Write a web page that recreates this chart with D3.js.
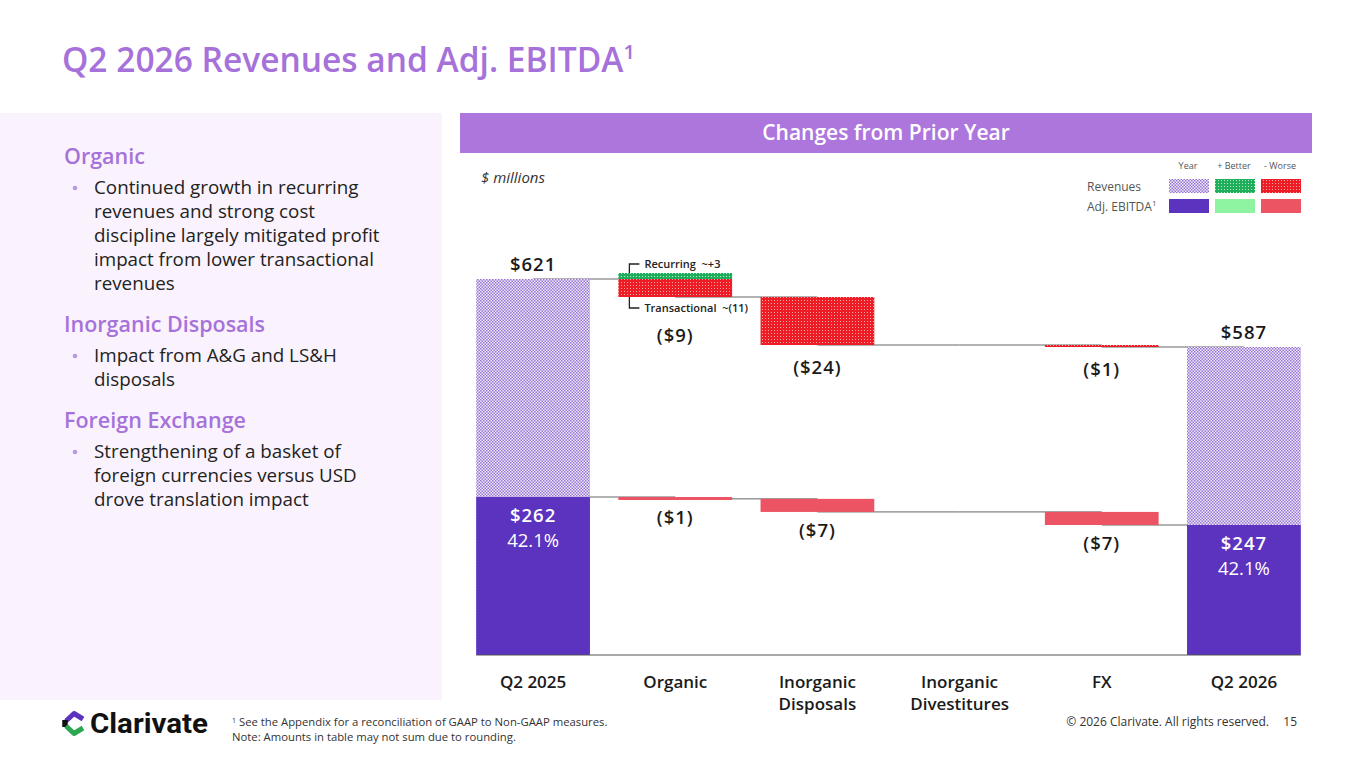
<!DOCTYPE html>
<html>
<head>
<meta charset="utf-8">
<script src="https://cdn.jsdelivr.net/npm/d3@7"></script>
<style>
  body { margin: 0; background: #fff; }
  svg { display: block; font-family: "Open Sans", Lato, sans-serif; }
</style>
</head>
<body>
<svg id="slide" width="1365" height="768"></svg>
<script>
// chart values
var categories = ["Q2 2025", "Organic", "Inorganic Disposals", "Inorganic Divestitures", "FX", "Q2 2026"];
var catLines = [["Q2 2025"], ["Organic"], ["Inorganic", "Disposals"], ["Inorganic", "Divestitures"], ["FX"], ["Q2 2026"]];
var revValues = [621, -9, -24, 0, -1, 587];
var ebitdaValues = [262, -1, -7, 0, -7, 247];
var revLabels = ["$621", "($9)", "($24)", "", "($1)", "$587"];
var ebitdaLabels = ["$262", "($1)", "($7)", "", "($7)", "$247"];
var marginLabels = ["42.1%", "", "", "", "", "42.1%"];
var organicSplit = [{ name: "Recurring", value: 3, label: "Recurring\u00a0\u00a0~+3" },
                    { name: "Transactional", value: -11, label: "Transactional\u00a0\u00a0~(11)" }];

var bullets = [
  { head: "Organic", lines: ["Continued growth in recurring", "revenues and strong cost", "discipline largely mitigated profit", "impact from lower transactional", "revenues"] },
  { head: "Inorganic Disposals", lines: ["Impact from A&G and LS&H", "disposals"] },
  { head: "Foreign Exchange", lines: ["Strengthening of a basket of", "foreign currencies versus USD", "drove translation impact"] }
];

make_slide = function () {
    var svg = d3.select("#slide");
    var purple = "#a672da";

    // patterns
    var defs = svg.append("defs");
    var pYear = defs.append("pattern").attr("id", "revYear").attr("patternUnits", "userSpaceOnUse")
        .attr("width", 3).attr("height", 3);
    pYear.append("rect").attr("width", 3).attr("height", 3).attr("fill", "#efe9f9");
    pYear.append("rect").attr("width", 1.5).attr("height", 1.5).attr("fill", "#9575d4");
    pYear.append("rect").attr("x", 1.5).attr("y", 1.5).attr("width", 1.5).attr("height", 1.5).attr("fill", "#9575d4");

    var pGood = defs.append("pattern").attr("id", "revGood").attr("patternUnits", "userSpaceOnUse")
        .attr("width", 3).attr("height", 3);
    pGood.append("rect").attr("width", 3).attr("height", 3).attr("fill", "#1fae5c");
    pGood.append("rect").attr("width", 1).attr("height", 1).attr("fill", "#b8ecc9");

    var pBad = defs.append("pattern").attr("id", "revBad").attr("patternUnits", "userSpaceOnUse")
        .attr("width", 3).attr("height", 3);
    pBad.append("rect").attr("width", 3).attr("height", 3).attr("fill", "#ee1c25");
    pBad.append("rect").attr("width", 1).attr("height", 1).attr("fill", "#f9a9ab");

    var ebYear = "#5b33bf", ebGood = "#8ef4a2", ebBad = "#ec5363";

    // title
    var title = svg.append("text").attr("x", 62).attr("y", 72)
        .attr("font-size", 33.5).attr("font-weight", 600).attr("fill", purple);
    title.append("tspan").text("Q2 2026 Revenues and Adj. EBITDA");
    title.append("tspan").attr("font-size", 20).attr("dy", -13).text("1");

    // left panel
    svg.append("rect").attr("x", 0).attr("y", 113).attr("width", 442).attr("height", 587).attr("fill", "#faf3fd");
    var yy = 164;
    bullets.forEach(function (b) {
        svg.append("text").attr("x", 64).attr("y", yy).attr("font-size", 21.5).attr("font-weight", 600)
            .attr("fill", purple).text(b.head);
        yy += 30;
        b.lines.forEach(function (l, i) {
            if (i === 0) svg.append("circle").attr("cx", 75).attr("cy", yy - 6).attr("r", 2.3).attr("fill", "#b79ae2");
            svg.append("text").attr("x", 94).attr("y", yy).attr("font-size", 18.8).attr("fill", "#222").text(l);
            yy += 24;
        });
        yy += 18;
    });

    // header bar
    svg.append("rect").attr("x", 460).attr("y", 113).attr("width", 852).attr("height", 40).attr("fill", "#ad76dd");
    svg.append("text").attr("x", 886).attr("y", 140).attr("text-anchor", "middle")
        .attr("font-size", 21).attr("font-weight", 600).attr("fill", "#fff").text("Changes from Prior Year");

    svg.append("text").attr("x", 481).attr("y", 183).attr("font-size", 15).attr("font-style", "italic")
        .attr("fill", "#333").text("$ millions");

    // legend
    var lg = svg.append("g").attr("font-size", 9).attr("fill", "#555");
    [["Year", 1188], ["+ Better", 1234], ["- Worse", 1280]].forEach(function (d) {
        lg.append("text").attr("x", d[1]).attr("y", 169).attr("text-anchor", "middle").text(d[0]);
    });
    lg.append("text").attr("x", 1087).attr("y", 191).attr("font-size", 12).text("Revenues");
    var eb = lg.append("text").attr("x", 1087).attr("y", 211).attr("font-size", 12);
    eb.append("tspan").text("Adj. EBITDA");
    eb.append("tspan").attr("font-size", 8).attr("dy", -5).text("1");
    [["url(#revYear)", ebYear], ["url(#revGood)", ebGood], ["url(#revBad)", ebBad]].forEach(function (c, i) {
        lg.append("rect").attr("x", 1169 + i * 46).attr("y", 179).attr("width", 40).attr("height", 14).attr("fill", c[0]);
        lg.append("rect").attr("x", 1169 + i * 46).attr("y", 199).attr("width", 40).attr("height", 14).attr("fill", c[1]);
    });

    // scales (broken axis: each series has its own vertical scale above a common baseline)
    var base = 655;
    var x = d3.scaleBand().domain(categories).range([462, 1315]).paddingInner(0.2).paddingOuter(0.1);
    var yRev = d3.scaleLinear().domain([587, 621]).range([347, 279]);
    var yEb = d3.scaleLinear().domain([247, 262]).range([525, 497]);
    var bw = x.bandwidth();

    function steps(values) {
        var run = 0;
        return values.map(function (v, i) {
            var total = (i === 0 || i === values.length - 1);
            var d = { cat: categories[i], v: v, total: total };
            if (total) { d.start = v; d.end = v; run = v; }
            else { d.start = run; d.end = run + v; run = run + v; }
            return d;
        });
    }
    var rev = steps(revValues);
    var ebs = steps(ebitdaValues);

    // connectors
    function connectors(data, y) {
        svg.append("g").attr("stroke", "#666").attr("stroke-width", 1)
            .selectAll("line").data(data.slice(0, -1)).join("line")
            .attr("x1", d => x(d.cat) + bw / 2)
            .attr("x2", (d, i) => x(categories[i + 1]) + bw / 2)
            .attr("y1", d => y(d.end)).attr("y2", d => y(d.end));
    }
    connectors(rev, yRev);
    connectors(ebs, yEb);

    // revenue bars
    svg.append("g").selectAll("rect").data(rev.filter(d => d.v !== 0)).join("rect")
        .attr("x", d => x(d.cat)).attr("width", bw)
        .attr("y", d => d.total ? yRev(d.v) : Math.min(yRev(d.start), yRev(d.end)))
        .attr("height", d => d.total ? base - yRev(d.v) : Math.abs(yRev(d.start) - yRev(d.end)))
        .attr("fill", d => d.total ? "url(#revYear)" : (d.v > 0 ? "url(#revGood)" : "url(#revBad)"));

    // organic recurring piece on top of start
    var org = rev[1];
    svg.append("rect").attr("x", x(org.cat)).attr("width", bw)
        .attr("y", yRev(org.start + organicSplit[0].value)).attr("height", yRev(org.start) - yRev(org.start + organicSplit[0].value))
        .attr("fill", "url(#revGood)");

    // ebitda bars
    svg.append("g").selectAll("rect").data(ebs.filter(d => d.v !== 0)).join("rect")
        .attr("x", d => x(d.cat)).attr("width", bw)
        .attr("y", d => d.total ? yEb(d.v) : Math.min(yEb(d.start), yEb(d.end)))
        .attr("height", d => d.total ? base - yEb(d.v) : Math.max(3, Math.abs(yEb(d.start) - yEb(d.end))))
        .attr("fill", d => d.total ? ebYear : (d.v > 0 ? ebGood : ebBad));

    // baseline
    svg.append("line").attr("x1", x(categories[0])).attr("x2", x(categories[5]) + bw)
        .attr("y1", base).attr("y2", base).attr("stroke", "#555").attr("stroke-width", 1.2);

    // revenue labels
    svg.append("g").attr("font-size", 18.5).attr("font-weight", 600).attr("letter-spacing", 1)
        .attr("fill", "#1a1a1a").attr("text-anchor", "middle")
        .selectAll("text").data(rev).join("text")
        .attr("x", d => x(d.cat) + bw / 2)
        .attr("y", (d, i) => d.total ? yRev(d.v) - 8 : (i === 1 ? yRev(d.end) + 45 : yRev(d.end) + 29))
        .text((d, i) => revLabels[i]);

    // ebitda labels
    svg.append("g").attr("font-size", 18.5).attr("font-weight", 600).attr("letter-spacing", 1).attr("text-anchor", "middle")
        .selectAll("text").data(ebs).join("text")
        .attr("x", d => x(d.cat) + bw / 2)
        .attr("y", d => d.total ? yEb(d.v) + 25 : yEb(d.end) + 25)
        .attr("fill", d => d.total ? "#fff" : "#1a1a1a")
        .text((d, i) => ebitdaLabels[i]);
    svg.append("g").attr("font-size", 18.5).attr("fill", "#fff").attr("text-anchor", "middle")
        .selectAll("text").data(ebs.filter(d => d.total)).join("text")
        .attr("x", d => x(d.cat) + bw / 2)
        .attr("y", d => yEb(d.v) + 50)
        .text(d => marginLabels[categories.indexOf(d.cat)]);

    // organic split annotations
    var ax = x(org.cat) + 11;
    var topY = yRev(org.start + organicSplit[0].value);
    var botY = yRev(org.end);
    var ann = svg.append("g").attr("font-size", 11).attr("font-weight", 600).attr("fill", "#222");
    ann.append("path").attr("d", `M${ax},${topY} V${topY - 9} H${ax + 10}`).attr("fill", "none").attr("stroke", "#222").attr("stroke-width", 1.3);
    ann.append("text").attr("x", ax + 15).attr("y", topY - 5.5).text(organicSplit[0].label);
    ann.append("path").attr("d", `M${ax},${botY} V${botY + 11} H${ax + 10}`).attr("fill", "none").attr("stroke", "#222").attr("stroke-width", 1.3);
    ann.append("text").attr("x", ax + 15).attr("y", botY + 15).text(organicSplit[1].label);

    // category labels
    svg.append("g").attr("font-size", 17).attr("font-weight", 600).attr("fill", "#1a1a1a").attr("text-anchor", "middle")
        .selectAll("text").data(categories).join("text")
        .attr("x", d => x(d) + bw / 2).attr("y", 688)
        .each(function (d, i) {
            var t = d3.select(this);
            catLines[i].forEach(function (l, j) {
                t.append("tspan").attr("x", x(d) + bw / 2).attr("dy", j === 0 ? 0 : 22).text(l);
            });
        });

    // footer
    var logo = svg.append("g").attr("transform", "translate(62,712)");
    logo.append("path").attr("d", "M4,9 L12,1.5 L21,7").attr("fill", "none").attr("stroke", "#5b33bf").attr("stroke-width", 5).attr("stroke-linejoin", "round");
    logo.append("path").attr("d", "M3,8 L3,15").attr("fill", "none").attr("stroke", "#111").attr("stroke-width", 5.5);
    logo.append("path").attr("d", "M4,14 L12,21.5 L21,16").attr("fill", "none").attr("stroke", "#2aa74f").attr("stroke-width", 5).attr("stroke-linejoin", "round");
    logo.append("text").attr("x", 28).attr("y", 21).attr("font-size", 27).attr("font-weight", 700)
        .attr("textLength", 118).attr("lengthAdjust", "spacingAndGlyphs")
        .attr("font-family", "Roboto, Lato, sans-serif").attr("fill", "#111").text("Clarivate");

    var fn = svg.append("g").attr("font-size", 11.3).attr("fill", "#333");
    var f1 = fn.append("text").attr("x", 232).attr("y", 726);
    f1.append("tspan").attr("font-size", 7).attr("dy", -3).text("1");
    f1.append("tspan").attr("dy", 3).text(" See the Appendix for a reconciliation of GAAP to Non-GAAP measures.");
    fn.append("text").attr("x", 232).attr("y", 741).text("Note: Amounts in table may not sum due to rounding.");
    fn.append("text").attr("x", 1269).attr("y", 726).attr("text-anchor", "end").attr("font-size", 12).text("\u00a9 2026 Clarivate. All rights reserved.");
    fn.append("text").attr("x", 1297).attr("y", 726).attr("text-anchor", "end").attr("font-size", 12).text("15");
}

make_slide();
</script>
</body>
</html>
